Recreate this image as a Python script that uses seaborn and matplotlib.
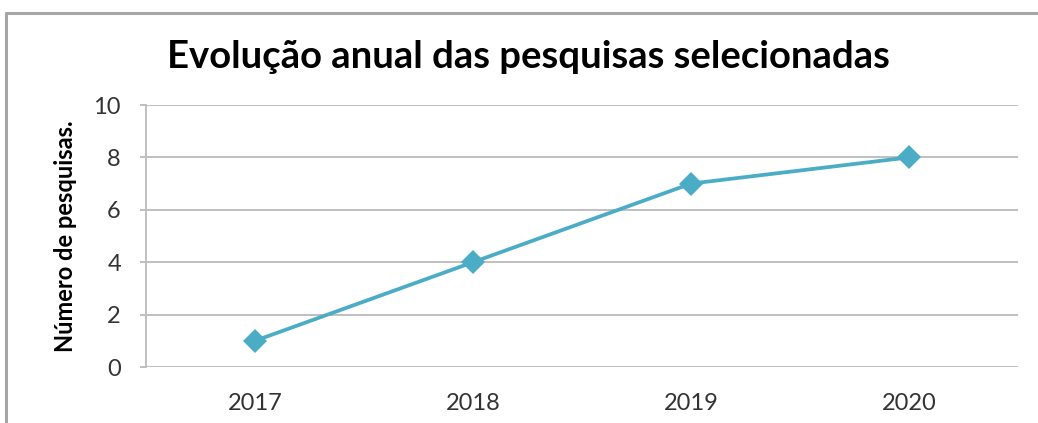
import matplotlib
matplotlib.use('Agg')
import matplotlib.pyplot as plt
from matplotlib.lines import Line2D
import seaborn as sns
import pandas as pd

anos = [2017, 2018, 2019, 2020]
pesquisas = [1, 4, 7, 8]
titulo = 'Evolução anual das pesquisas selecionadas'
rotulo_y = 'Número de pesquisas.'

df = pd.DataFrame({'ano': anos, 'n': pesquisas})

sns.set_style('white')
plt.rcParams['font.family'] = ['Lato', 'DejaVu Sans']

fig = plt.figure(figsize=(10.38, 4.23), dpi=100)
ax = fig.add_axes([146/1038, 56/423, 872/1038, 262/423])

sns.lineplot(data=df, x='ano', y='n', ax=ax, color='#4BACC6', linewidth=2.7,
             marker='D', markersize=12, markeredgewidth=0, zorder=3)

ax.set_xlim(2016.5, 2020.5)
ax.set_ylim(0, 10)
ax.set_xticks(anos)
ax.set_xticklabels([str(a) for a in anos])
ax.set_yticks(range(0, 11, 2))
ax.grid(axis='y', color='#BFBFBF', linewidth=1.4)
ax.grid(axis='x', visible=False)
for s in ['top', 'right', 'bottom']:
    ax.spines[s].set_visible(False)
ax.spines['left'].set_color('#BFBFBF')
ax.spines['left'].set_linewidth(1.4)
ax.tick_params(axis='y', left=True, length=4, width=1.4, color='#BFBFBF',
               labelsize=17, labelcolor='#333333', pad=14)
ax.tick_params(axis='x', bottom=False, labelsize=17, labelcolor='#333333', pad=15)
ax.set_xlabel('')
ax.set_ylabel(rotulo_y, fontsize=17, fontweight='bold', color='black', labelpad=12)

fig.text(528/1038, 1 - 57/423, titulo, ha='center', va='center',
         fontsize=27.5, fontweight='bold', color='black')

# moldura do gráfico
fig.add_artist(Line2D([6/1038, 6/1038], [0, 1 - 13/423], color='#A6A6A6', linewidth=2.2))
fig.add_artist(Line2D([6/1038, 1], [1 - 13/423, 1 - 13/423], color='#A6A6A6', linewidth=2.2))

fig.savefig('out.png', dpi=100)
